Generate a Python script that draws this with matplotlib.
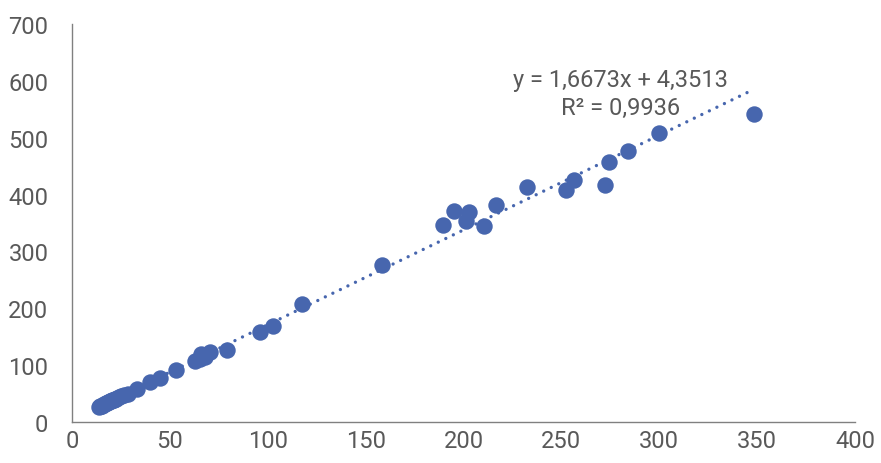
import matplotlib
matplotlib.use("Agg")
import matplotlib.pyplot as plt
import numpy as np

x_vals = [14.0, 14.5, 15.0, 15.5, 16.0, 16.5, 17.0, 17.5, 18.0, 18.5, 19.0, 19.5, 20.0, 20.5,
          21.0, 21.5, 22.0, 22.5, 23.0, 24.0, 25.0, 26.5, 28.6, 33.2, 39.8, 45.0, 53.1,
          62.8, 65.4, 65.9, 68.0, 70.5, 79.2, 96.0, 102.7, 117.5, 158.4,
          189.5, 195.1, 201.3, 202.8, 210.5, 216.6, 232.5, 252.4, 256.4, 272.3, 274.3,
          284.0, 299.9, 348.4]
y_vals = [26.0, 27.5, 28.0, 29.0, 30.5, 31.5, 32.0, 33.5, 34.0, 35.0, 35.5, 36.5, 37.0, 38.0,
          38.5, 39.5, 40.0, 41.0, 42.0, 43.5, 45.0, 47.0, 49.0, 58.0, 70.0, 77.4, 91.5,
          107.0, 110.8, 119.6, 114.0, 123.0, 126.6, 158.0, 168.8, 207.5, 276.0,
          346.5, 371.0, 353.5, 369.0, 344.7, 381.6, 413.0, 408.0, 425.6, 417.0, 457.0,
          476.6, 508.0, 541.7]

slope, intercept, r2 = 1.6673, 4.3513, 0.9936
eq_line1 = "y = 1,6673x + 4,3513"
eq_line2 = "R² = 0,9936"
x_ticks = [0, 50, 100, 150, 200, 250, 300, 350, 400]
y_ticks = [0, 100, 200, 300, 400, 500, 600, 700]

color = "#4766AE"
text_color = "#595959"
plt.rcParams['font.family'] = ['Roboto', 'DejaVu Sans']

fig = plt.figure(figsize=(8.81, 4.64), dpi=100)
ax = fig.add_axes([72/881, 41/464, (855-72)/881, (423-25)/464])

ax.scatter(x_vals, y_vals, s=140, color=color, zorder=3, linewidths=0)

xs = np.array([min(x_vals), max(x_vals) - 2.5])
ax.plot(xs, slope*xs + intercept, linestyle=(0, (0.01, 2.5)), color=color, linewidth=2.4,
        dash_capstyle='round', solid_capstyle='round', zorder=2)

ax.set_xlim(0, 400)
ax.set_ylim(0, 700)
ax.set_xticks(x_ticks)
ax.set_yticks(y_ticks)
ax.tick_params(axis='both', length=0, labelsize=17, colors=text_color)
ax.tick_params(axis='x', pad=5)
ax.tick_params(axis='y', pad=17)
for s in ['top', 'right']:
    ax.spines[s].set_visible(False)
for s in ['left', 'bottom']:
    ax.spines[s].set_color('#808080')
    ax.spines[s].set_linewidth(1)

ax.text(280, 602, eq_line1, ha='center', va='center', fontsize=17, color=text_color)
ax.text(280, 553, eq_line2, ha='center', va='center', fontsize=17, color=text_color)

fig.savefig("out.png", dpi=100)
